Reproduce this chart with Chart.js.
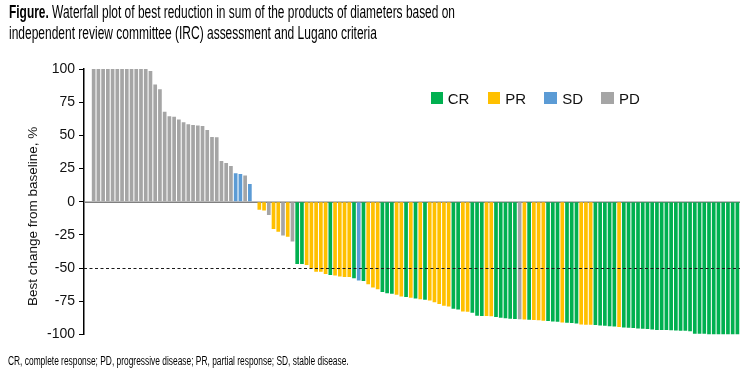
<!DOCTYPE html>
<html>
<head>
<meta charset="utf-8">
<script src="https://cdn.jsdelivr.net/npm/chart.js@4.4.0/dist/chart.umd.min.js"></script>
<style>
html,body{margin:0;padding:0;background:#fff;}
#wrap{position:relative;width:750px;height:382px;overflow:hidden;background:#fff;}
#c{position:absolute;left:0;top:0;}
.narrow{position:absolute;font-family:'Liberation Sans',Arial,sans-serif;color:#000;white-space:nowrap;transform-origin:0 0;}
.ttl{font-size:17.5px;line-height:21px;}
.foot{font-size:12px;line-height:14px;}
.lg{position:absolute;font-family:'Liberation Sans',Arial,sans-serif;font-size:15px;line-height:15px;color:#111;white-space:nowrap;}
.sw{position:absolute;width:12.5px;height:12px;}
#ytitle{position:absolute;font-family:'Liberation Sans',Arial,sans-serif;font-size:13.5px;line-height:16px;color:#111;white-space:nowrap;transform-origin:0 0;}
</style>
</head>
<body>
<div id="wrap">
  <canvas id="c" width="750" height="382"></canvas>
  <div class="narrow ttl" id="t1" style="left:9px;top:1.6px;"><b>Figure.</b> Waterfall plot of best reduction in sum of the products of diameters based on</div>
  <div class="narrow ttl" id="t2" style="left:9px;top:22.6px;">independent review committee (IRC) assessment and Lugano criteria</div>
  <div id="ytitle">Best change from baseline, %</div>
  <div id="legend"></div>
  <div class="narrow foot" id="fn" style="left:8.3px;top:353.8px;">CR, complete response; PD, progressive disease; PR, partial response; SD, stable disease.</div>
</div>
<script>
// ---- data ----
const patients = [1,2,3,4,5,6,7,8,9,10,11,12,13,14,15,16,17,18,19,20,21,22,23,24,25,26,27,28,29,30,
  31,32,33,34,35,36,37,38,39,40,41,42,43,44,45,46,47,48,49,50,51,52,53,54,55,56,57,58,59,60,
  61,62,63,64,65,66,67,68,69,70,71,72,73,74,75,76,77,78,79,80,81,82,83,84,85,86,87,88,89,90,
  91,92,93,94,95,96,97,98,99,100,101,102,103,104,105,106,107,108,109,110,111,112,113,114,115,116,117,118,119,120,
  121,122,123,124,125,126,127,128,129,130,131,132,133,134,135,136,137];

const bestChange = [100,100,100,100,100,100,100,100,100,100,100,100,98.5,88.4,84.7,67.8,64.3,64,62,59.8,
  58.3,57.8,57.5,57,54,48.7,48.5,30.7,29.1,26.9,21.4,20.9,19.8,13.3,0,
  -6,-6.7,-10,-20.5,-22.6,-25.5,-26.5,-30,-47,-47,-47.7,-50.3,-52.8,-52.8,-54.5,-55.3,-55.7,-56.4,-56.8,-56.8,
  -57.6,-59.4,-59.8,-62.2,-64.6,-66,
  -68,-69,-69.3,-70.2,-71.5,-71.8,-72.3,-72.9,-73.6,-73.8,-74.5,-75.8,-77,-78.5,-79,-80.6,-81.2,-82.8,-82.9,-83.7,
  -85.9,-86.1,-86.2,-86.3,-86.9,-87.4,-87.9,-88.2,-88.4,-88.6,-88.7,-88.9,-89.2,-89.4,-89.7,-89.9,-90.2,-90.5,-91,-91.2,
  -91.4,-91.7,-92.5,-92.7,-92.7,-93,-93.2,-93.5,-93.9,-94.1,-94.4,-94.8,-95,-95.2,-95.5,-95.7,-96,-96.4,-96.6,-96.7,
  -96.7,-96.8,-97,-97.2,-97.3,-97.7,-99.5,-99.5,-99.6,-100,-100,-100,-100,-100,-100,-100];

const response = ['PD','PD','PD','PD','PD','PD','PD','PD','PD','PD','PD','PD','PD','PD','PD','PD','PD','PD','PD','PD',
  'PD','PD','PD','PD','PD','PD','PD','PD','PD','PD','SD','SD','PD','SD','PD',
  'PR','PR','PD','PR','PR','PD','PR','PD','CR','CR','PR','PR','PR','PR','PR','CR','PR','PR','PR','PR',
  'CR','SD','CR','PR','PR','PR',
  'CR','CR','CR','PR','PR','CR','PR','CR','PR','CR','PR','PR','PR','PR','PR','CR','CR','PR','PR','CR',
  'CR','CR','PR','PR','CR','CR','CR','CR','CR','PD','PR','CR','PR','PR','PR','CR','CR','CR','PR','CR',
  'CR','CR','PR','PR','PR','CR','CR','CR','CR','CR','PR','CR','CR','CR','CR','CR','CR','CR','CR','CR',
  'CR','CR','CR','CR','CR','CR','CR','CR','CR','CR','CR','CR','CR','CR','CR','CR'];

const legendLabels = ['CR','PR','SD','PD'];
const yTicks = [100,75,50,25,0,-25,-50,-75,-100];
const threshold = -50;
const xRange = {min:-1.04, max:137.55};

// ---- styles ----
const colors = {CR:'#00B050', PR:'#FFC000', SD:'#5B9BD5', PD:'#A5A5A5'};

const refLines = {
  id:'refLines',
  beforeDatasetsDraw(chart){
    const {ctx, chartArea:a, scales:{y}} = chart;
    const y0 = Math.round(y.getPixelForValue(0)) + 0.25;
    ctx.save();
    ctx.strokeStyle = '#7f7f7f';
    ctx.lineWidth = 1.5;
    ctx.beginPath(); ctx.moveTo(a.left, y0); ctx.lineTo(a.right, y0); ctx.stroke();
    ctx.restore();
  },
  afterDatasetsDraw(chart){
    const {ctx, chartArea:a, scales:{y}} = chart;
    const yp = Math.round(y.getPixelForValue(threshold)) + 0.5;
    ctx.save();
    ctx.strokeStyle = '#1a1a1a';
    ctx.lineWidth = 1.2;
    ctx.setLineDash([3,2.5]);
    ctx.beginPath(); ctx.moveTo(a.left, yp); ctx.lineTo(a.right, yp); ctx.stroke();
    ctx.restore();
  }
};

new Chart(document.getElementById('c'), {
  type:'bar',
  data:{
    labels: patients,
    datasets:[{
      data: bestChange,
      backgroundColor: response.map(r => colors[r]),
      borderWidth: 0,
      barPercentage: 0.78,
      categoryPercentage: 1
    }]
  },
  options:{
    responsive:false, animation:false, devicePixelRatio:1,
    layout:{padding:{top:69, bottom:47.6, right:10, left:0}},
    plugins:{legend:{display:false}, tooltip:{enabled:false}},
    scales:{
      x:{type:'linear', bounds:'data', offset:false, display:false,
         min:xRange.min, max:xRange.max,
         afterBuildTicks(s){ s.min = xRange.min; s.max = xRange.max; }},
      y:{
        min:-100, max:100,
        afterFit(s){ s.width = 84; },
        afterBuildTicks(s){ s.ticks = yTicks.map(v => ({value:v})); },
        ticks:{font:{family:'Liberation Sans', size:14}, color:'#111', padding:4},
        grid:{drawOnChartArea:false, drawTicks:true, tickLength:5, color:'#000', lineWidth:1},
        border:{display:true, color:'#000', width:1.5}
      }
    }
  },
  plugins:[refLines]
});

// legend (HTML)
const lgPos = [{sq:430.7, tx:447.7},{sq:487.7, tx:505.3},{sq:544.3, tx:562.3},{sq:601.3, tx:619}];
const lg = document.getElementById('legend');
legendLabels.forEach((k,i) => {
  const s = document.createElement('div');
  s.className='sw'; s.style.left=lgPos[i].sq+'px'; s.style.top='92.3px'; s.style.background=colors[k];
  lg.appendChild(s);
  const t = document.createElement('div');
  t.className='lg'; t.style.left=lgPos[i].tx+'px'; t.style.top='91.3px'; t.textContent=k;
  lg.appendChild(t);
});

// y title (rotated about its top-left corner), centred at about (33, 216)
const yt = document.getElementById('ytitle');
const w = yt.offsetWidth, h = yt.offsetHeight;
yt.style.left = Math.round(33 - h/2) + 'px';
yt.style.top = Math.round(216 + w/2) + 'px';
yt.style.transform = 'rotate(-90deg)';

// fit condensed texts to their measured widths
function fit(id, target){
  const el = document.getElementById(id);
  el.style.transform = 'scaleX(' + (target/el.offsetWidth) + ')';
}
fit('t1', 446); fit('t2', 368); fit('fn', 341);
</script>
</body>
</html>
